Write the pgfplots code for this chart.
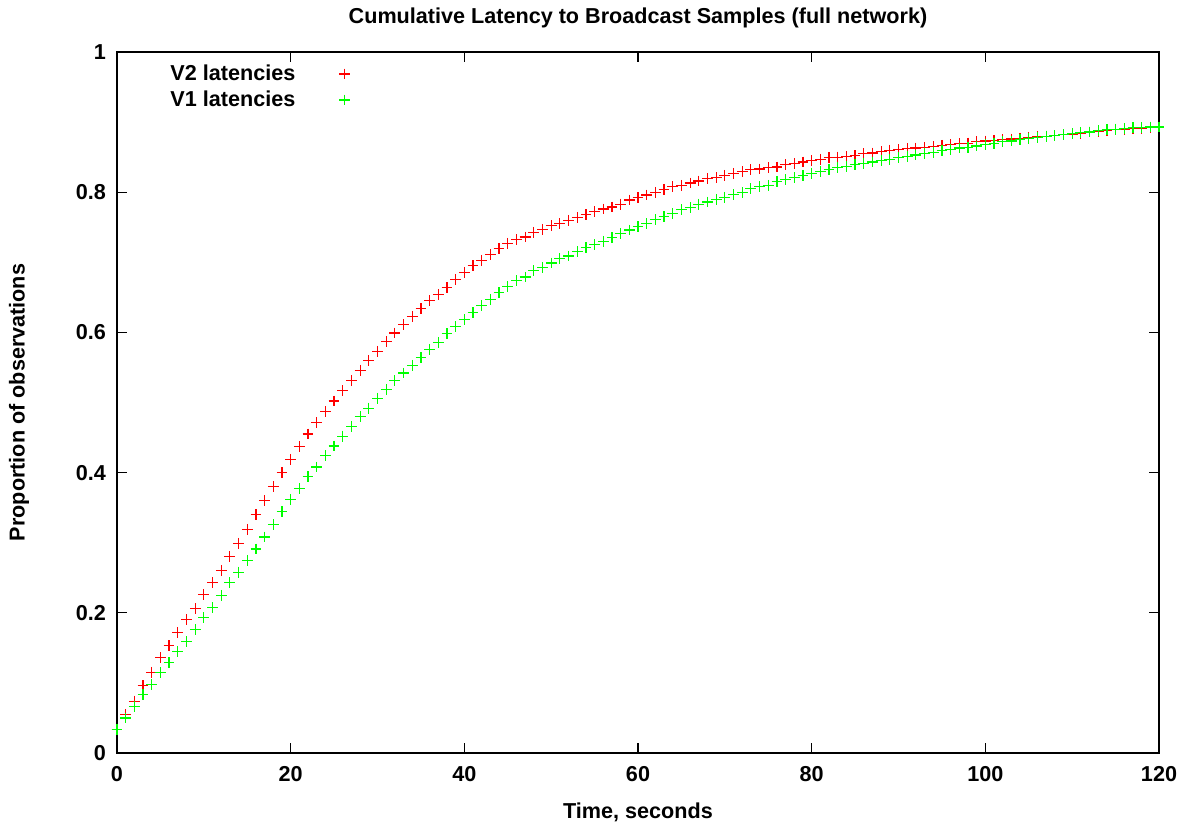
\documentclass[border=0pt]{standalone}
\usepackage{pgfplots}
\pgfplotsset{compat=1.18}
\usepackage{pgfplotstable}
\usepackage{fontspec}
\setmainfont{Liberation Sans}
\pgfplotstableread{
x v2 v1
0 0.034 0.034
1 0.055 0.050
2 0.074 0.066
3 0.096 0.083
4 0.115 0.098
5 0.136 0.115
6 0.153 0.129
7 0.172 0.145
8 0.190 0.159
9 0.206 0.176
10 0.226 0.193
11 0.243 0.207
12 0.260 0.225
13 0.280 0.243
14 0.299 0.258
15 0.319 0.275
16 0.340 0.291
17 0.360 0.308
18 0.380 0.326
19 0.400 0.344
20 0.419 0.362
21 0.437 0.377
22 0.455 0.394
23 0.471 0.408
24 0.487 0.424
25 0.502 0.438
26 0.517 0.452
27 0.531 0.466
28 0.546 0.480
29 0.560 0.492
30 0.573 0.506
31 0.587 0.519
32 0.599 0.531
33 0.611 0.542
34 0.623 0.553
35 0.634 0.564
36 0.645 0.576
37 0.654 0.586
38 0.664 0.598
39 0.675 0.608
40 0.685 0.618
41 0.695 0.628
42 0.703 0.638
43 0.711 0.647
44 0.720 0.657
45 0.727 0.665
46 0.732 0.674
47 0.736 0.679
48 0.743 0.688
49 0.747 0.693
50 0.752 0.699
51 0.755 0.705
52 0.760 0.709
53 0.764 0.715
54 0.768 0.721
55 0.772 0.725
56 0.776 0.730
57 0.779 0.735
58 0.783 0.741
59 0.789 0.746
60 0.792 0.751
61 0.796 0.755
62 0.800 0.761
63 0.804 0.765
64 0.808 0.770
65 0.810 0.775
66 0.813 0.778
67 0.816 0.783
68 0.819 0.786
69 0.821 0.790
70 0.824 0.793
71 0.827 0.797
72 0.829 0.800
73 0.832 0.805
74 0.833 0.808
75 0.835 0.810
76 0.836 0.815
77 0.839 0.818
78 0.841 0.821
79 0.843 0.824
80 0.845 0.827
81 0.847 0.830
82 0.849 0.832
83 0.850 0.835
84 0.851 0.837
85 0.852 0.839
86 0.855 0.841
87 0.856 0.843
88 0.858 0.845
89 0.860 0.847
90 0.861 0.849
91 0.862 0.851
92 0.863 0.853
93 0.864 0.855
94 0.865 0.857
95 0.867 0.859
96 0.868 0.861
97 0.869 0.863
98 0.870 0.864
99 0.872 0.866
100 0.873 0.868
101 0.874 0.870
102 0.875 0.872
103 0.876 0.873
104 0.877 0.875
105 0.878 0.877
106 0.879 0.878
107 0.880 0.880
108 0.881 0.881
109 0.882 0.882
110 0.883 0.884
111 0.884 0.885
112 0.886 0.886
113 0.887 0.888
114 0.888 0.889
115 0.889 0.890
116 0.890 0.891
117 0.891 0.892
118 0.891 0.892
119 0.892 0.893
120 0.893 0.893
}\datatable
\definecolor{gpred}{RGB}{255,0,0}
\definecolor{gpgreen}{RGB}{0,255,0}
\newcommand{\gpfont}{\fontsize{10.8}{13}\selectfont\bfseries}
\pgfplotsset{gpmarkleg/.style={legend image code/.code={\path[draw=none,fill=none] (0pt,-1pt) rectangle (25.4pt,1pt); \draw[##1, mark indices={2}] plot coordinates {(0pt,0pt)(22.7pt,0pt)};}}}
\begin{document}
\begin{tikzpicture}
\begin{axis}[
  scale only axis,
  width=521pt, height=350.5pt,
  xmin=0, xmax=120, ymin=0, ymax=1,
  xtick={0,20,...,120},
  ytick={0,0.2,0.4,0.6,0.8,1},
  yticklabels={0,0.2,0.4,0.6,0.8,1},
  tick align=inside,
  major tick length=5pt,
  axis line style={line width=1pt},
  every tick/.style={black,line width=0.6pt},
  /pgf/number format/assume math mode=true,
  tick label style={font=\gpfont},
  label style={font=\gpfont},
  title style={font=\gpfont, yshift=2.5pt},
  title={Cumulative Latency to Broadcast Samples (full network)},
  xlabel={Time, seconds},
  ylabel={Proportion of observations},
  xticklabel style={yshift=-3pt},
  yticklabel style={xshift=-2pt},
  xlabel style={yshift=-4pt},
  ylabel style={yshift=16.5pt},
  legend style={at={(0.0413,0.994)}, anchor=north west, draw=none, fill=none,
    font=\gpfont, row sep=-0.3pt},
  legend plot pos=right,
  legend cell align=right,
]
\addplot[only marks, mark=+, mark size=2.7pt, gpred, line width=0.6pt, gpmarkleg] table[x=x,y=v2] {\datatable};
\addlegendentry{V2 latencies}
\addplot[only marks, mark=+, mark size=2.7pt, gpgreen, line width=0.6pt, gpmarkleg] table[x=x,y=v1] {\datatable};
\addlegendentry{V1 latencies}
\coordinate (sw) at (rel axis cs:0,0);
\coordinate (ne) at (rel axis cs:1,1);
\end{axis}
\pgfresetboundingbox
\path[use as bounding box] ([xshift=-58.5pt,yshift=-35.5pt]sw) rectangle ([xshift=14.5pt,yshift=26pt]ne);
\end{tikzpicture}
\end{document}
